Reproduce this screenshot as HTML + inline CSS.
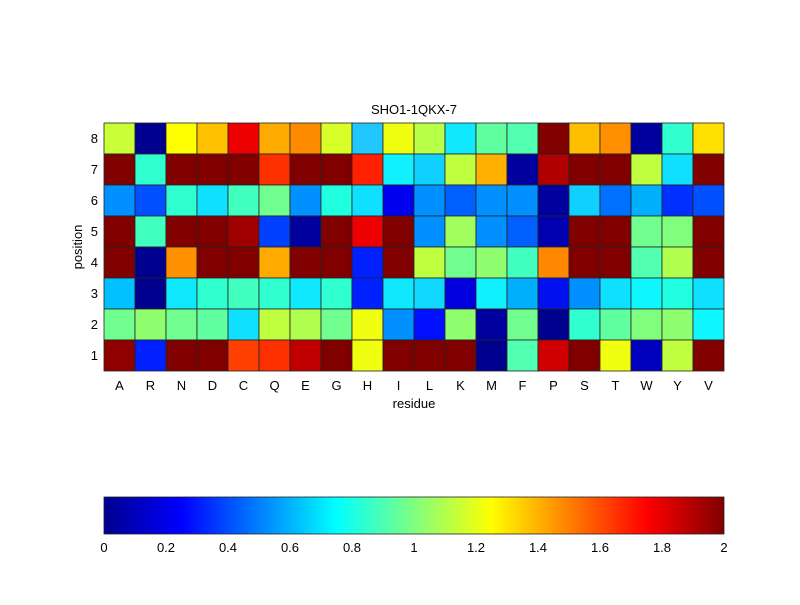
<!DOCTYPE html>
<html><head><meta charset="utf-8"><style>
body{margin:0;background:#fff;width:800px;height:600px;overflow:hidden;font-family:"Liberation Sans",sans-serif;}
</style></head><body>
<svg width="800" height="600" xmlns="http://www.w3.org/2000/svg" font-family="Liberation Sans, sans-serif" font-size="13">
<defs><linearGradient id="jet" x1="0" x2="1" y1="0" y2="0">
<stop offset="0" stop-color="#00008f"/><stop offset="0.125" stop-color="#0000ff"/><stop offset="0.375" stop-color="#00ffff"/><stop offset="0.625" stop-color="#ffff00"/><stop offset="0.875" stop-color="#ff0000"/><stop offset="1" stop-color="#800000"/></linearGradient></defs>
<g id="grid" stroke="#222" stroke-width="0.8"></g>
<text x="414" y="114" text-anchor="middle">SHO1-1QKX-7</text>
<g text-anchor="end" id="yl"></g>
<g text-anchor="middle" id="xl"></g>
<text x="414" y="408" text-anchor="middle">residue</text>
<text transform="translate(82,247) rotate(-90)" text-anchor="middle">position</text>
<rect x="104" y="497" width="620" height="37" fill="url(#jet)" stroke="#222" stroke-width="0.8"/>
<g text-anchor="middle">
<text x="104" y="552">0</text><text x="166" y="552">0.2</text><text x="228" y="552">0.4</text><text x="290" y="552">0.6</text><text x="352" y="552">0.8</text><text x="414" y="552">1</text><text x="476" y="552">1.2</text><text x="538" y="552">1.4</text><text x="600" y="552">1.6</text><text x="662" y="552">1.8</text><text x="724" y="552">2</text>
</g>
</svg>
<script>
var rows=[
"c8ff37 00008f ffff00 ffc000 ef0000 ffaa00 ff8c00 d8ff27 20c8ff f0ff10 b8ff47 10e8ff 60ff9f 50ffaf 800000 ffbf00 ff8f00 00009f 30ffcf ffdf00",
"800000 30ffcf 800000 800000 800000 ff3000 800000 800000 ff2000 10f0ff 10d0ff c0ff3f ffb000 00009f b00000 800000 800000 c0ff3f 10e0ff 800000",
"0090ff 0050ff 30ffcf 10e0ff 40ffbf 70ff8f 0090ff 20ffdf 10e0ff 0000ef 0090ff 0060ff 0090ff 0090ff 00009f 10d0ff 0070ff 00b0ff 0030ff 0050ff",
"800000 40ffbf 800000 800000 a00000 0040ff 00009f 800000 ef0000 800000 0090ff a0ff5f 0090ff 0060ff 0000af 800000 800000 70ff8f 80ff7f 800000",
"800000 00008f ff9000 800000 800000 ffaa00 800000 800000 0020ff 800000 c0ff3f 70ff8f 90ff6f 40ffbf ff8800 800000 800000 50ffaf b0ff4f 800000",
"00c0ff 00008f 10e8ff 30ffcf 40ffbf 30ffcf 10e8ff 30ffcf 0020ff 10e8ff 10d8ff 0000df 10f0ff 00b0ff 0010ef 0090ff 10e0ff 10f8ff 20ffdf 10e0ff",
"70ff8f 90ff6f 70ff8f 60ff9f 10e0ff c0ff3f b0ff4f 70ff8f f0ff10 0090ff 0010ff 90ff6f 00009f 70ff8f 00008f 30ffcf 60ff9f 80ff7f 90ff6f 10f8ff",
"900000 0020ff 800000 800000 ff4000 ff3000 c00000 800000 f0ff10 800000 800000 800000 00008f 50ffaf d00000 800000 f0ff10 0000bf c0ff3f 800000"];
var ns="http://www.w3.org/2000/svg",g=document.getElementById("grid");
rows.forEach(function(r,i){r.split(" ").forEach(function(c,j){var e=document.createElementNS(ns,"rect");
e.setAttribute("x",104+j*31);e.setAttribute("y",123+i*31);e.setAttribute("width",31);e.setAttribute("height",31);e.setAttribute("fill","#"+c);g.appendChild(e);});
var t=document.createElementNS(ns,"text");t.setAttribute("x",98);t.setAttribute("y",123+i*31+20);t.textContent=8-i;document.getElementById("yl").appendChild(t);});
"A R N D C Q E G H I L K M F P S T W Y V".split(" ").forEach(function(l,j){var t=document.createElementNS(ns,"text");t.setAttribute("x",104+j*31+15.5);t.setAttribute("y",390);t.textContent=l;document.getElementById("xl").appendChild(t);});
</script>
</body></html>
